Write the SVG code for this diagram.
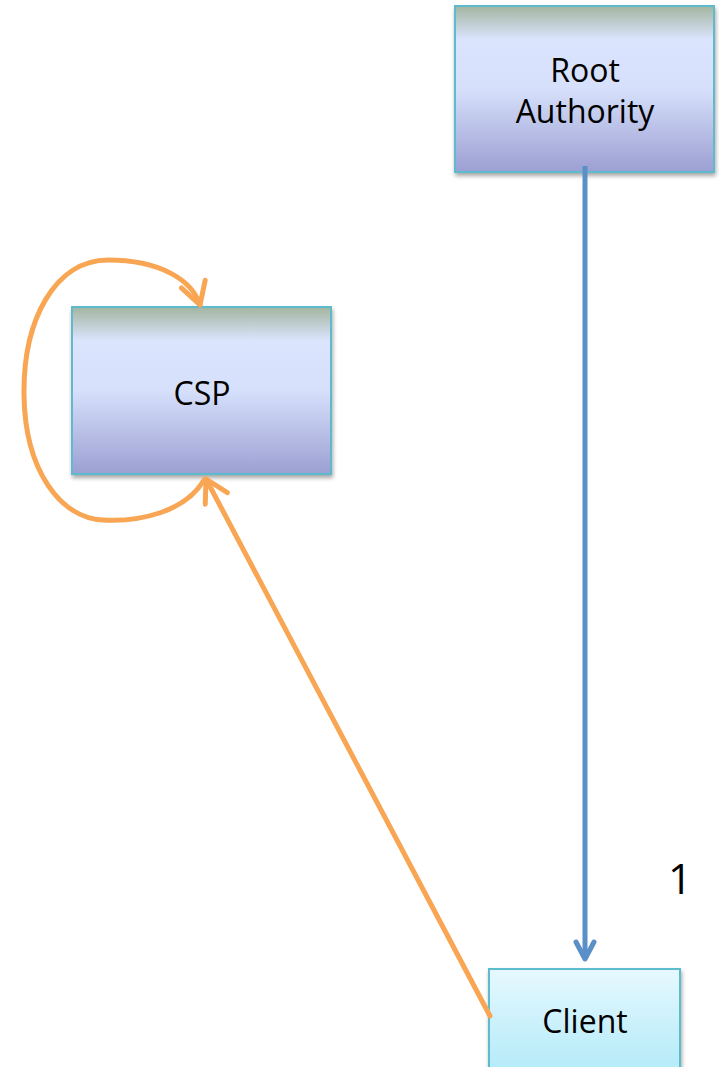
<svg xmlns="http://www.w3.org/2000/svg" width="719" height="1067" viewBox="0 0 719 1067">
  <defs>
    <linearGradient id="boxFill" x1="0" y1="0" x2="0" y2="1">
      <stop offset="0" stop-color="#a3b5a0"/>
      <stop offset="0.2" stop-color="#dae4fd"/>
      <stop offset="0.5" stop-color="#d6e0fb"/>
      <stop offset="1" stop-color="#9c9fd2"/>
    </linearGradient>
    <linearGradient id="clientFill" x1="0" y1="0" x2="0" y2="1">
      <stop offset="0" stop-color="#e6f8fe"/>
      <stop offset="1" stop-color="#b0eaf8"/>
    </linearGradient>
    <filter id="shadow" x="-10%" y="-10%" width="130%" height="130%">
      <feGaussianBlur in="SourceAlpha" stdDeviation="2"/>
      <feOffset dx="1" dy="3" result="b"/>
      <feComponentTransfer><feFuncA type="linear" slope="0.35"/></feComponentTransfer>
      <feMerge><feMergeNode/><feMergeNode in="SourceGraphic"/></feMerge>
    </filter>
    <marker id="arrowBlue" viewBox="0 0 24 24" refX="20" refY="12" markerWidth="24" markerHeight="24" markerUnits="userSpaceOnUse" orient="auto">
      <path d="M3,3 L20,12 L3,21" fill="none" stroke="#5b8fc8" stroke-width="5" stroke-linecap="round" stroke-linejoin="round"/>
    </marker>
    <marker id="arrowOrange" viewBox="0 0 30 30" refX="26" refY="15" markerWidth="30" markerHeight="30" markerUnits="userSpaceOnUse" orient="auto">
      <path d="M4,2.5 L26,15 L4,27.5" fill="none" stroke="#f8a654" stroke-width="5" stroke-linecap="round" stroke-linejoin="round"/>
    </marker>
  </defs>
  <style>
    .node rect { stroke: #5bbccd; stroke-width: 2; }
    .label { font-family: "Open Sans", "Liberation Sans", sans-serif; font-size: 32px; fill: #000; text-anchor: middle; }
    .blue { fill: none; stroke: #5b8fc8; stroke-width: 5; }
    .orange { fill: none; stroke: #f8a654; stroke-width: 5; stroke-linecap: round; }
  </style>

  <g id="root-authority" class="node">
    <rect x="455" y="6" width="259" height="166" fill="url(#boxFill)" filter="url(#shadow)"/>
    <text class="label" x="585" y="82">Root</text>
    <text class="label" x="585" y="123">Authority</text>
  </g>

  <g id="csp" class="node">
    <rect x="72" y="307" width="259" height="167" fill="url(#boxFill)" filter="url(#shadow)"/>
    <text class="label" x="202" y="405">CSP</text>
  </g>

  <g id="client" class="node">
    <rect x="489" y="969" width="191" height="110" fill="url(#clientFill)" filter="url(#shadow)"/>
    <text class="label" x="585" y="1033">Client</text>
  </g>

  <text id="step-number" class="label" style="font-size:42px" x="680" y="894">1</text>

  <g id="connectors">
    <line class="blue" x1="585" y1="166" x2="585" y2="959" marker-end="url(#arrowBlue)"/>
    <line class="orange" x1="490" y1="1016" x2="206" y2="479" marker-end="url(#arrowOrange)"/>
    <path class="orange" d="M204,480 C185,512 140,522 103,520 C60,518 25,470 24,395 C23,320 55,260 108,260 C160,260 192,280 200,305" marker-end="url(#arrowOrange)"/>
  </g>
</svg>
